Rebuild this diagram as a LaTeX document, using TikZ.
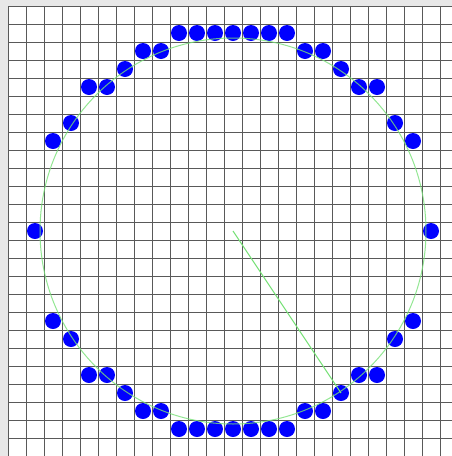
\documentclass[tikz,border=0pt]{standalone}
\definecolor{lgreen}{RGB}{120,225,120}
\definecolor{bgray}{RGB}{232,232,232}
\begin{document}
\begin{tikzpicture}[x=1pt,y=-1pt,
  gridline/.style={draw=black!65,line width=0.9pt},
  dot/.style={circle,fill=blue,inner sep=0pt,minimum size=16pt},
  ring/.style={draw=lgreen,line width=1pt}]
\useasboundingbox (0,0) rectangle (452,456);
\fill[bgray] (0,0) rectangle (452,456);
\fill[white] (8,6) rectangle (452,456);
\begin{scope}
\clip (0,0) rectangle (452,456);
\foreach \k in {0,...,24} \draw[gridline] ({8+18*\k},6) -- ({8+18*\k},456);
\foreach \k in {0,...,25} \draw[gridline] (8,{6+18*\k}) -- (452,{6+18*\k});
\end{scope}
\coordinate (c) at (233,231);
\foreach \i in {-11,...,11}{
  \pgfmathtruncatemacro{\h}{round(sqrt(121-\i*\i))}
  \node[dot] (t\i) at ({233+18*\i},{231-18*\h}) {};
  \ifnum\h>0 \node[dot] (b\i) at ({233+18*\i},{231+18*\h}) {};\fi
}
\draw[ring,opacity=0.8] (c) circle[radius=193];
\draw[ring] (c) -- (b6.center);
\end{tikzpicture}
\end{document}
